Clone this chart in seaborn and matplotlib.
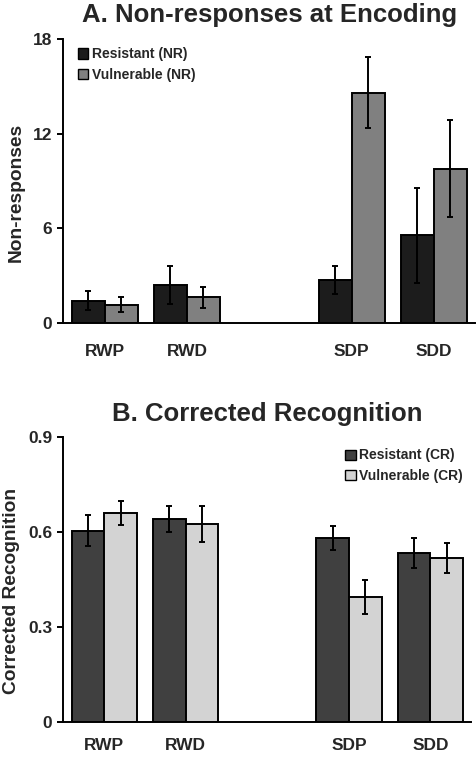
import numpy as np
import pandas as pd
import matplotlib
matplotlib.use("Agg")
import matplotlib.pyplot as plt
import seaborn as sns

# categories (blank slot between the RW and SD conditions)
conditions = ["RWP", "RWD", "SDP", "SDD"]
slots = ["RWP", "RWD", " ", "SDP", "SDD"]

# A. non-responses at encoding
nr_resistant = [1.4, 2.4, 2.7, 5.55]
nr_resistant_se = [0.6, 1.2, 0.9, 3.0]
nr_vulnerable = [1.15, 1.6, 14.6, 9.77]
nr_vulnerable_se = [0.45, 0.67, 2.25, 3.08]

# B. corrected recognition
cr_resistant = [0.604, 0.641, 0.581, 0.535]
cr_resistant_se = [0.049, 0.042, 0.037, 0.047]
cr_vulnerable = [0.660, 0.625, 0.394, 0.519]
cr_vulnerable_se = [0.039, 0.057, 0.053, 0.047]

sns.set_style("white")
plt.rcParams["font.family"] = ["Liberation Sans", "DejaVu Sans"]
plt.rcParams["font.weight"] = "bold"


def make_df(res, res_se, vul, vul_se, tag):
    return pd.DataFrame({
        "condition": conditions * 2,
        "group": [f"Resistant ({tag})"] * 4 + [f"Vulnerable ({tag})"] * 4,
        "value": res + vul,
        "se": res_se + vul_se,
    })


def panel(ax, df, colors, title, ylabel, yticks, yticklabels, legend_loc, legend_anchor, xpad):
    groups = list(df["group"].unique())
    sns.barplot(data=df, x="condition", y="value", hue="group", order=slots,
                hue_order=groups, palette=colors, errorbar=None, width=0.8,
                edgecolor="black", linewidth=1.4, saturation=1, ax=ax)
    for cont, g in zip(ax.containers, groups):
        sub = df[df["group"] == g]
        xs = [b.get_x() + b.get_width() / 2 for b in cont]
        ax.errorbar(xs, sub["value"].values, yerr=sub["se"].values, fmt="none",
                    ecolor="black", elinewidth=1.4, capsize=2.5, capthick=1.4)
    ax.set_xlim(-0.5, 4.5)
    ax.set_ylim(yticks[0], yticks[-1])
    ax.set_yticks(yticks)
    ax.set_yticklabels(yticklabels, fontsize=12.5, fontweight="bold")
    ax.set_xticks(range(5))
    ax.set_xticklabels(slots, fontsize=12.5, fontweight="bold")
    ax.set_xticks(np.arange(-0.5, 5.0, 1.0), minor=True)
    ax.tick_params(axis="x", which="major", length=0, pad=xpad)
    ax.tick_params(axis="x", which="minor", length=5, width=1.4, direction="out", color="black")
    ax.tick_params(axis="y", length=4, width=1.4, direction="out", color="black", pad=4, left=True)
    ax.set_xlabel("")
    ax.set_ylabel(ylabel, fontsize=13.8, fontweight="bold", labelpad=6, y=0.46)
    ax.set_title(title, fontsize=18.5, fontweight="bold", pad=12)
    for s in ["top", "right"]:
        ax.spines[s].set_visible(False)
    for s in ["left", "bottom"]:
        ax.spines[s].set_linewidth(1.4)
        ax.spines[s].set_color("black")
    leg = ax.legend(loc=legend_loc, bbox_to_anchor=legend_anchor, frameon=False,
                    handlelength=0.75, handleheight=0.75, handletextpad=0.25,
                    labelspacing=0.45, borderaxespad=0.2,
                    prop={"size": 10, "weight": "bold"})
    for h in leg.legend_handles:
        h.set_edgecolor("black")
        h.set_linewidth(1.0)


fig = plt.figure(figsize=(4.77, 7.57), dpi=100)
ax1 = fig.add_axes([0.133, 0.5737, 0.863, 0.3748])
ax2 = fig.add_axes([0.133, 0.0466, 0.855, 0.3757])

df_nr = make_df(nr_resistant, nr_resistant_se, nr_vulnerable, nr_vulnerable_se, "NR")
df_cr = make_df(cr_resistant, cr_resistant_se, cr_vulnerable, cr_vulnerable_se, "CR")

panel(ax1, df_nr, ["#1c1c1c", "#808080"], "A. Non-responses at Encoding", "Non-responses",
      [0, 6, 12, 18], ["0", "6", "12", "18"], "upper left", (0.015, 1.0), 15)
panel(ax2, df_cr, ["#404040", "#d3d3d3"], "B. Corrected Recognition", "Corrected Recognition",
      [0, 0.3, 0.6, 0.9], ["0", "0.3", "0.6", "0.9"], "upper right", (1.0, 0.99), 12)

fig.savefig("out.png", dpi=100)
